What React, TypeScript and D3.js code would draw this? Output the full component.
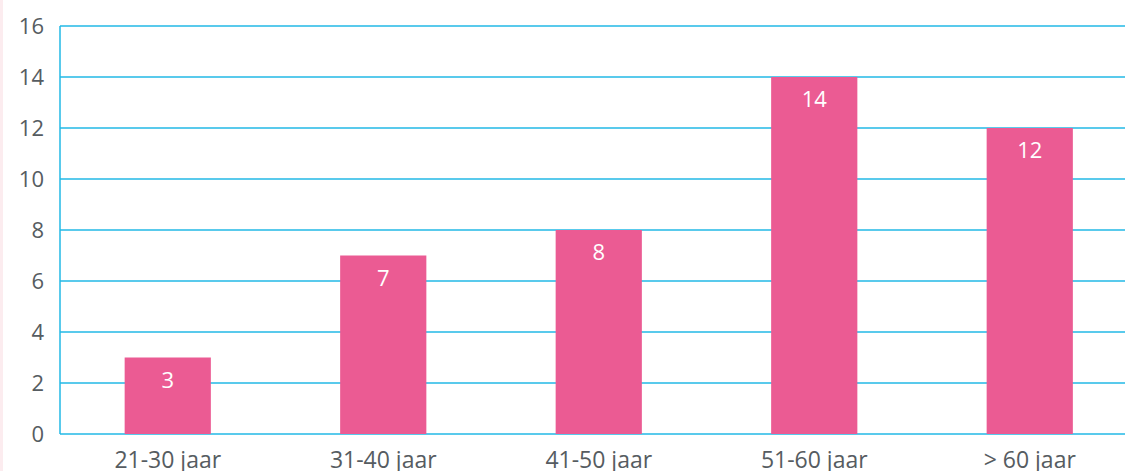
import React, { useEffect, useRef } from 'react';
import * as d3 from 'd3';

// Chart data
const categories = ['21-30 jaar', '31-40 jaar', '41-50 jaar', '51-60 jaar', '> 60 jaar'];
const counts = [3, 7, 8, 14, 12];
const yTicks = [0, 2, 4, 6, 8, 10, 12, 14, 16];

const W = 1125;
const H = 471;

const App = () => {
  const svgRef = useRef<SVGSVGElement | null>(null);

  useEffect(() => {
    if (!svgRef.current) return;
    const svg = d3.select(svgRef.current);
    svg.selectAll('*').remove();

    const left = 60;
    const top = 26;
    const bottom = 434;
    const step = 215.5;
    const font = 'Open Sans, sans-serif';

    // left page strip
    svg.append('rect')
      .attr('x', 0).attr('y', 0)
      .attr('width', 3).attr('height', H)
      .attr('fill', '#fcecef');

    const x = d3.scaleBand<string>()
      .domain(categories)
      .range([left, left + step * categories.length])
      .paddingInner(0.6)
      .paddingOuter(0.3);

    const y = d3.scaleLinear()
      .domain([0, 16])
      .range([bottom, top]);

    // grid lines
    svg.append('g')
      .selectAll('line')
      .data(yTicks)
      .join('line')
      .attr('x1', left)
      .attr('x2', W)
      .attr('y1', d => y(d))
      .attr('y2', d => y(d))
      .attr('stroke', '#22b8e6')
      .attr('stroke-width', 1.5);

    // y axis line
    svg.append('line')
      .attr('x1', left).attr('x2', left)
      .attr('y1', y(16)).attr('y2', y(0))
      .attr('stroke', '#22b8e6')
      .attr('stroke-width', 1.5);

    // y tick labels
    svg.append('g')
      .selectAll('text')
      .data(yTicks)
      .join('text')
      .attr('x', 44)
      .attr('y', d => y(d) + 8)
      .attr('text-anchor', 'end')
      .attr('font-family', font)
      .attr('font-size', 22)
      .attr('fill', '#565c61')
      .text(d => d);

    // bars
    svg.append('g')
      .selectAll('rect')
      .data(counts)
      .join('rect')
      .attr('x', (d, i) => x(categories[i])!)
      .attr('y', d => y(d))
      .attr('width', x.bandwidth())
      .attr('height', d => y(0) - y(d))
      .attr('fill', '#eb5b93');

    // value labels
    svg.append('g')
      .selectAll('text')
      .data(counts)
      .join('text')
      .attr('x', (d, i) => x(categories[i])! + x.bandwidth() / 2)
      .attr('y', d => y(d) + 30)
      .attr('text-anchor', 'middle')
      .attr('font-family', font)
      .attr('font-size', 22)
      .attr('fill', '#ffffff')
      .text(d => d);

    // category labels
    svg.append('g')
      .selectAll('text')
      .data(categories)
      .join('text')
      .attr('x', d => x(d)! + x.bandwidth() / 2)
      .attr('y', 468)
      .attr('text-anchor', 'middle')
      .attr('font-family', font)
      .attr('font-size', 23)
      .attr('fill', '#565c61')
      .text(d => d);
  }, []);

  return (
    <div style={{ position: 'fixed', left: 0, top: 0, width: W, height: H, background: '#fff' }}>
      <svg ref={svgRef} width={W} height={H} style={{ display: 'block' }}></svg>
    </div>
  );
};

export default App;
